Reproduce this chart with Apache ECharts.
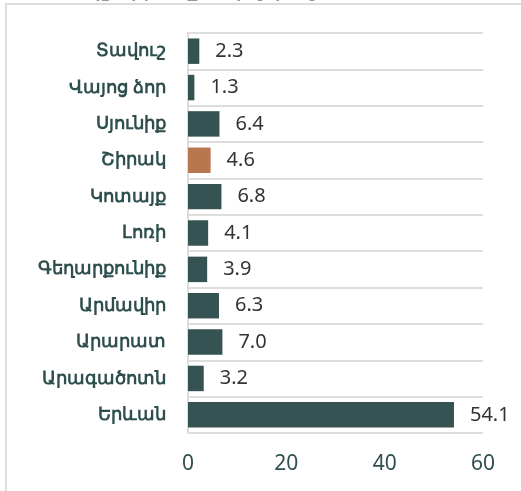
<!DOCTYPE html>
<html>
<head>
<meta charset="utf-8">
<script src="https://cdn.jsdelivr.net/npm/echarts@6/dist/echarts.min.js"></script>
<style>
  html, body { margin: 0; padding: 0; background: #fff; }
  #main { width: 521px; height: 491px; }
</style>
</head>
<body>
<div id="main"></div>
<script>
var chart = echarts.init(document.getElementById('main'));

// regions, top to bottom
var regions = ['Տավուշ', 'Վայոց ձոր', 'Սյունիք', 'Շիրակ', 'Կոտայք', 'Լոռի',
    'Գեղարքունիք', 'Արմավիր', 'Արարատ', 'Արագածոտն', 'Երևան'];
var shares = [2.3, 1.3, 6.4, 4.6, 6.8, 4.1, 3.9, 6.3, 7.0, 3.2, 54.1];
var highlight = 'Շիրակ';
var xTicks = [0, 20, 40, 60];

var barColor = '#365353';
var hiColor = '#b8774f';
var textColor = '#2f4f4f';

var barData = [];
for (var i = 0; i < regions.length; i++) {
    barData.push({
        value: shares[i],
        itemStyle: { color: regions[i] === highlight ? hiColor : barColor }
    });
}

var option = {
    backgroundColor: '#fff',
    animation: false,
    title: {
        text: 'Բնակչությունը մարզերով, %, 2022',
        left: 36,
        top: -25,
        textStyle: {
            color: '#333',
            fontSize: 20,
            fontWeight: 'bold',
            fontFamily: 'Noto Sans'
        }
    },
    graphic: [{
        type: 'rect',
        shape: { x: 6, y: 4, width: 700, height: 700 },
        style: { fill: 'none', stroke: '#dddddd', lineWidth: 2 },
        silent: true
    }],
    grid: {
        left: 188,
        right: 38,
        top: 33,
        bottom: 58
    },
    xAxis: {
        type: 'value',
        min: xTicks[0],
        max: xTicks[xTicks.length - 1],
        interval: 20,
        axisLine: { show: false },
        axisTick: { show: false },
        splitLine: { show: false },
        axisLabel: {
            color: textColor,
            fontSize: 21,
            margin: 21,
            fontFamily: 'Noto Sans'
        }
    },
    yAxis: {
        type: 'category',
        data: regions,
        inverse: true,
        axisLine: { show: true, lineStyle: { color: '#dddddd', width: 2 } },
        axisTick: { show: false },
        splitLine: { show: true, lineStyle: { color: '#dddddd', width: 2 } },
        axisLabel: {
            color: textColor,
            fontSize: 18,
            fontWeight: 'bold',
            margin: 22,
            fontFamily: 'Noto Sans'
        }
    },
    series: [{
        type: 'bar',
        data: barData,
        barCategoryGap: '30%',
        label: {
            show: true,
            position: 'right',
            distance: 16,
            color: '#333',
            fontSize: 20,
            fontFamily: 'Noto Sans',
            formatter: function (p) { return p.value.toFixed(1); }
        }
    }]
};

chart.setOption(option);
</script>
</body>
</html>
